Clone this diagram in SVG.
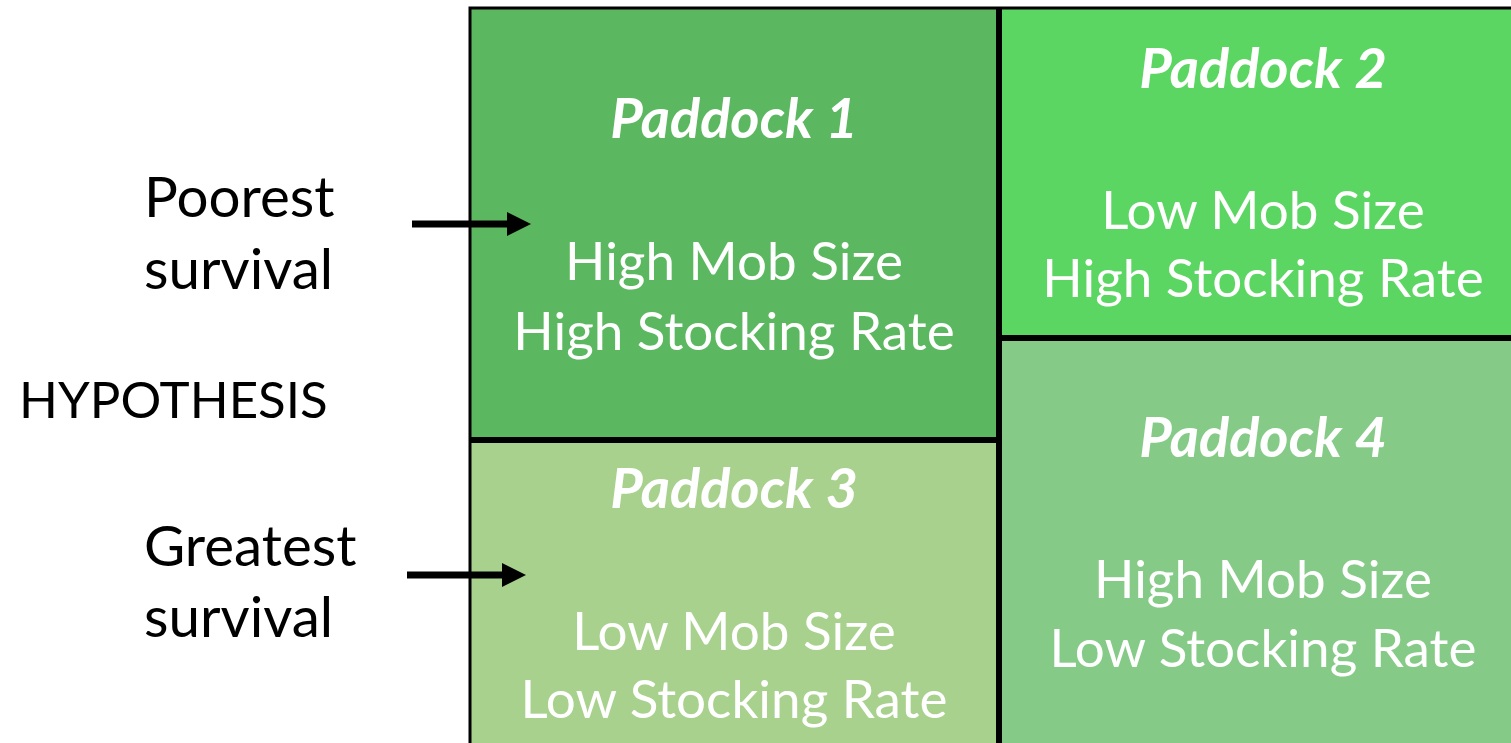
<svg xmlns="http://www.w3.org/2000/svg" width="1511" height="743" viewBox="0 0 1511 743">
  <style>
    .side { font-family: Lato, "Liberation Sans", sans-serif; font-size: 56.5px; fill: #000; }
    .hyp { font-family: Lato, "Liberation Sans", sans-serif; font-size: 51px; fill: #000; }
    .title { font-family: Lato, "Liberation Sans", sans-serif; font-size: 56px; font-weight: bold; font-style: italic; fill: #fff; text-anchor: middle; }
    .body { font-family: Lato, "Liberation Sans", sans-serif; font-size: 53px; fill: #fff; text-anchor: middle; }
    .edge { stroke: #000; stroke-width: 7; fill: none; }
  </style>
  <defs>
    <marker id="head" markerWidth="24" markerHeight="24" viewBox="0 0 24 24" refX="2" refY="12" orient="auto" markerUnits="userSpaceOnUse">
      <path d="M0,0 L24,12 L0,24 Z" fill="#000"/>
    </marker>
  </defs>
  <rect width="1511" height="743" fill="#fff"/>

  <g id="paddock1">
    <rect x="470" y="8" width="529" height="432" fill="#5cb860"/>
    <text class="title" x="734" y="138">Paddock 1</text>
    <text class="body" x="734" y="280">High Mob Size</text>
    <text class="body" x="734" y="350">High Stocking Rate</text>
  </g>
  <g id="paddock2">
    <rect x="999" y="8" width="512" height="330" fill="#5cd662"/>
    <text class="title" x="1263" y="88">Paddock 2</text>
    <text class="body" x="1263" y="229">Low Mob Size</text>
    <text class="body" x="1263" y="297">High Stocking Rate</text>
  </g>
  <g id="paddock3">
    <rect x="470" y="440" width="529" height="303" fill="#a9d18e"/>
    <text class="title" x="734" y="508">Paddock 3</text>
    <text class="body" x="734" y="650">Low Mob Size</text>
    <text class="body" x="734" y="718">Low Stocking Rate</text>
  </g>
  <g id="paddock4">
    <rect x="999" y="338" width="512" height="405" fill="#85cb87"/>
    <text class="title" x="1263" y="457">Paddock 4</text>
    <text class="body" x="1263" y="598">High Mob Size</text>
    <text class="body" x="1263" y="667">Low Stocking Rate</text>
  </g>

  <!-- paddock boundaries -->
  <g id="fences">
    <path d="M470,743 V8 H1511" stroke="#000" stroke-width="3" fill="none"/>
    <path d="M999,8 V743" stroke="#000" stroke-width="6"/>
    <path d="M470,440 H999" stroke="#000" stroke-width="6"/>
    <path d="M999,338 H1511" stroke="#000" stroke-width="6"/>
  </g>

  <g id="labels">
    <text class="side" x="144" y="217">Poorest</text>
    <text class="side" x="144" y="289">survival</text>
    <text class="hyp" x="19" y="418">HYPOTHESIS</text>
    <text class="side" x="144" y="566">Greatest</text>
    <text class="side" x="144" y="637">survival</text>
  </g>

  <g id="connectors">
    <path class="edge" d="M412,224 H509" marker-end="url(#head)"/>
    <path class="edge" d="M407,575 H504" marker-end="url(#head)"/>
  </g>
</svg>
